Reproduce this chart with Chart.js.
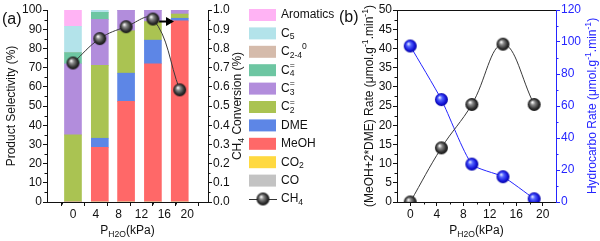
<!DOCTYPE html>
<html>
<head>
<meta charset="utf-8">
<script src="https://cdn.jsdelivr.net/npm/chart.js@4.4.0/dist/chart.umd.min.js"></script>
<style>
  html, body { margin: 0; padding: 0; background: #fff; }
  #wrap { position: relative; width: 600px; height: 241px; overflow: hidden; }
  #chartA { position: absolute; left: 0; top: 0; }
  #chartB { position: absolute; left: 330px; top: 0; }
</style>
</head>
<body>
<div id="wrap">
  <canvas id="chartA" width="345" height="241"></canvas>
  <canvas id="chartB" width="270" height="241"></canvas>
</div>
<script>
// ---- data ----
const pressure = [0, 4.7, 9.3, 14, 18.7];          // P_H2O (kPa)
const xTicks = [0, 4, 8, 12, 16, 20];

// (a) product selectivity (%), stacked bottom -> top
const selCO = [0, 0, 0, 0, 0];
const selCO2 = [0, 0, 0, 0, 0];
const selMeOH = [0, 28.5, 52.4, 72, 94.3];
const selDME = [0, 4.7, 14.7, 12.3, 1.4];
const selC2ene = [35, 38, 22.1, 9.7, 2.2];
const selC3ene = [37, 23.9, 10.8, 6, 2.1];
const selC4ene = [5.8, 3.7, 0, 0, 0];
const selC24ane = [0, 0, 0, 0, 0];
const selC5 = [13.7, 1.2, 0, 0, 0];
const selArom = [8.5, 0, 0, 0, 0];
const ch4Conv = [0.724, 0.851, 0.913, 0.953, 0.584];
const selTicks = [0, 10, 20, 30, 40, 50, 60, 70, 80, 90, 100];
const convTicks = [0, 0.1, 0.2, 0.3, 0.4, 0.5, 0.6, 0.7, 0.8, 0.9, 1.0];
const arrowSpec = { from: 15.1, to: 17.7, y: 0.94 };

// (b) rates
const oxyRate = [0, 14.1, 25.4, 41.1, 25.4];      // (MeOH+2*DME) rate
const hcRate = [97.5, 64, 23.7, 15.8, 2];         // hydrocarbon rate
const oxyTicks = [0, 5, 10, 15, 20, 25, 30, 35, 40, 45, 50];
const hcTicks = [0, 20, 40, 60, 80, 100, 120];

// legend labels (rich text: [text, kind])
const legendLabels = [
  [['Aromatics']],
  [['C'], ['5', 'sub']],
  [['C'], ['2-4', 'sub'], ['0', 'sup']],
  [['C'], ['4', 'sub'], ['=', 'over']],
  [['C'], ['3', 'sub'], ['=', 'over']],
  [['C'], ['2', 'sub'], ['=', 'over']],
  [['DME']],
  [['MeOH']],
  [['CO'], ['2', 'sub']],
  [['CO']],
  [['CH'], ['4', 'sub']]
];

// ---- styles ----
const FONT = "'Liberation Sans', Arial, Helvetica, sans-serif";
const INK = '#111';
const BLUE = '#2525ff';
const colors = {
  CO: '#c3c3c3', CO2: '#ffd940', MeOH: '#ff6868', DME: '#5d86e6',
  C2ene: '#aac352', C3ene: '#b28ddc', C4ene: '#6dc6a2', C24ane: '#d5bbab',
  C5: '#b3e3ea', Arom: '#ffb3f4'
};
const legendColors = [colors.Arom, colors.C5, colors.C24ane, colors.C4ene, colors.C3ene,
  colors.C2ene, colors.DME, colors.MeOH, colors.CO2, colors.CO, null];

function sphere(r, stops) {
  const c = document.createElement('canvas');
  c.width = c.height = 2 * r + 2;
  const g = c.getContext('2d');
  const m = r + 1;
  const grad = g.createRadialGradient(m - r * 0.3, m - r * 0.35, r * 0.05, m, m, r);
  stops.forEach(s => grad.addColorStop(s[0], s[1]));
  g.fillStyle = grad;
  g.beginPath();
  g.arc(m, m, r, 0, Math.PI * 2);
  g.fill();
  return c;
}
const blackBall = sphere(6.5, [[0, '#ffffff'], [0.3, '#8a8a8a'], [0.75, '#2e2e2e'], [1, '#151515']]);
const blueBall = sphere(6.5, [[0, '#e6ebff'], [0.3, '#5466ff'], [0.75, '#1515d8'], [1, '#0000a0']]);

// ---- rich text helpers ----
function segFont(size, kind) {
  return (kind ? size * 0.72 : size).toFixed(1) + 'px ' + FONT;
}
function segShift(size, kind) {
  if (kind === 'sub') return size * 0.3;
  if (kind === 'sup' || kind === 'over') return -size * 0.4;
  return 0;
}
function drawRich(ctx, segs, x, y, size, color, align, rot) {
  ctx.save();
  ctx.translate(x, y);
  if (rot) ctx.rotate(rot);
  let cx = 0, prevStart = 0;
  const parts = [];
  for (const [text, kind] of segs) {
    ctx.font = segFont(size, kind);
    const w = ctx.measureText(text).width;
    const sx = kind === 'over' ? prevStart : cx;
    parts.push({ text, kind, x: sx });
    if (kind === 'over') cx = Math.max(cx, sx + w);
    else { prevStart = sx; cx = sx + w; }
  }
  const x0 = align === 'left' ? 0 : -cx / 2;
  ctx.fillStyle = color;
  ctx.textAlign = 'left';
  ctx.textBaseline = 'middle';
  for (const p of parts) {
    ctx.font = segFont(size, p.kind);
    ctx.fillText(p.text, x0 + p.x, segShift(size, p.kind));
  }
  ctx.restore();
}

// minor tick marks halfway between major ticks
const minorTicks = {
  id: 'minorTicks',
  afterDraw(chart, args, opts) {
    const ctx = chart.ctx;
    for (const id in opts.steps) {
      const s = chart.scales[id];
      const step = opts.steps[id];
      ctx.save();
      ctx.strokeStyle = (opts.colors && opts.colors[id]) || INK;
      ctx.lineWidth = 1;
      ctx.beginPath();
      for (let v = Math.ceil(s.min / step) * step; v <= s.max + 1e-9; v += step) {
        if (s.ticks.some(t => Math.abs(t.value - v) < 1e-6)) continue;
        const p = Math.round(s.getPixelForValue(v)) + 0.5;
        if (s.isHorizontal()) {
          if (p < chart.chartArea.left + 1 || p > chart.chartArea.right - 1) continue;
          ctx.moveTo(p, s.top); ctx.lineTo(p, s.top + 2.5);
        } else if (s.position === 'left') {
          ctx.moveTo(s.right, p); ctx.lineTo(s.right - 2.5, p);
        } else {
          ctx.moveTo(s.left, p); ctx.lineTo(s.left + 2.5, p);
        }
      }
      ctx.stroke();
      ctx.restore();
    }
  }
};

function axisOpts(color, ticksArr, fitFn, extra) {
  return Object.assign({
    type: 'linear',
    afterBuildTicks: s => { s.ticks = ticksArr.map(v => ({ value: v })); },
    afterFit: fitFn,
    ticks: { color: color, font: { family: FONT, size: 12 }, padding: 1 },
    grid: { drawOnChartArea: false, drawTicks: true, tickLength: 4, color: color, tickColor: color },
    border: { display: true, color: color, width: 1 }
  }, extra);
}

// ---- chart (a) ----
const barDefs = [
  ['CO', selCO, colors.CO], ['CO2', selCO2, colors.CO2], ['MeOH', selMeOH, colors.MeOH],
  ['DME', selDME, colors.DME], ['C2=', selC2ene, colors.C2ene], ['C3=', selC3ene, colors.C3ene],
  ['C4=', selC4ene, colors.C4ene], ['C2-4 0', selC24ane, colors.C24ane], ['C5', selC5, colors.C5],
  ['Aromatics', selArom, colors.Arom]
];

const decorA = {
  id: 'decorA',
  afterDraw(chart) {
    const ctx = chart.ctx;
    const a = chart.chartArea;
    const xs = chart.scales.x, y1 = chart.scales.y1;
    // arrow toward the conversion axis
    const ay = y1.getPixelForValue(arrowSpec.y);
    const ax0 = xs.getPixelForValue(arrowSpec.from);
    const ax1 = xs.getPixelForValue(arrowSpec.to);
    ctx.save();
    ctx.strokeStyle = '#000';
    ctx.fillStyle = '#000';
    ctx.lineWidth = 2;
    ctx.beginPath(); ctx.moveTo(ax0, ay); ctx.lineTo(ax1 - 6, ay); ctx.stroke();
    ctx.beginPath(); ctx.moveTo(ax1, ay); ctx.lineTo(ax1 - 8, ay - 4.5); ctx.lineTo(ax1 - 8, ay + 4.5); ctx.closePath(); ctx.fill();
    ctx.restore();
    // titles
    const midY = (a.top + a.bottom) / 2;
    drawRich(ctx, [['Product Selectivity (%)']], 12, midY, 12, INK, 'center', -Math.PI / 2);
    drawRich(ctx, [['CH'], ['4', 'sub'], [' Conversion (%)']], 238, midY, 12, INK, 'center', -Math.PI / 2);
    drawRich(ctx, [['P'], ['H2O', 'sub'], ['(kPa)']], (a.left + a.right) / 2, 231, 12, INK, 'center');
    drawRich(ctx, [['(a)']], 2, 20, 16, INK, 'left');
    // legend
    for (let i = 0; i < legendLabels.length; i++) {
      const y = 15 + 18.4 * i;
      if (legendColors[i]) {
        ctx.fillStyle = legendColors[i];
        ctx.fillRect(249, y - 6, 27, 12);
      } else {
        ctx.strokeStyle = '#333';
        ctx.lineWidth = 1;
        ctx.beginPath(); ctx.moveTo(249, y + 0.5); ctx.lineTo(277, y + 0.5); ctx.stroke();
        ctx.drawImage(blackBall, 263 - blackBall.width / 2, y - blackBall.height / 2);
      }
      drawRich(ctx, legendLabels[i], 281, y, 12, INK, 'left');
    }
  }
};

new Chart(document.getElementById('chartA'), {
  type: 'bar',
  data: {
    datasets: barDefs.map(d => ({
      type: 'bar',
      label: d[0],
      data: pressure.map((p, i) => ({ x: p, y: d[1][i] })),
      backgroundColor: d[2],
      borderWidth: 0,
      barThickness: 17,
      stack: 'sel',
      yAxisID: 'y',
      order: 2
    })).concat([{
      type: 'line',
      label: 'CH4',
      data: pressure.map((p, i) => ({ x: p, y: ch4Conv[i] })),
      yAxisID: 'y1',
      borderColor: '#3a3a3a',
      borderWidth: 1,
      tension: 0.4,
      pointStyle: blackBall,
      pointRadius: 6.5,
      order: 0
    }])
  },
  options: {
    responsive: false,
    animation: false,
    layout: { padding: { top: 10, right: 101, left: 0, bottom: 0 } },
    plugins: {
      legend: { display: false },
      tooltip: { enabled: false },
      minorTicks: { steps: { x: 2, y: 5, y1: 0.05 } }
    },
    scales: {
      x: axisOpts(INK, xTicks, s => { s.height = 39; }, { min: -2.2, max: 21.3 }),
      y: axisOpts(INK, selTicks, s => { s.width = 47; }, { position: 'left', min: 0, max: 100, stacked: true }),
      y1: axisOpts(INK, convTicks, s => { s.width = 36; }, {
        position: 'right', min: 0, max: 1,
        ticks: { color: INK, font: { family: FONT, size: 12 }, padding: 1, callback: v => v.toFixed(1) }
      })
    }
  },
  plugins: [minorTicks, decorA]
});

// ---- chart (b) ----
const decorB = {
  id: 'decorB',
  afterDraw(chart) {
    const ctx = chart.ctx;
    const a = chart.chartArea;
    ctx.save();
    ctx.strokeStyle = INK;
    ctx.lineWidth = 1;
    ctx.beginPath();
    ctx.moveTo(a.left, Math.round(a.top) + 0.5);
    ctx.lineTo(a.right, Math.round(a.top) + 0.5);
    ctx.stroke();
    ctx.restore();
    const midY = (a.top + a.bottom) / 2;
    drawRich(ctx, [['(MeOH+2*DME) Rate (\u03bcmol.g'], ['-1', 'sup'], ['.min'], ['-1', 'sup'], [')']],
      40, midY, 12, INK, 'center', -Math.PI / 2);
    drawRich(ctx, [['Hydrocarbo Rate (\u03bcmol.g'], ['-1', 'sup'], ['.min'], ['-1', 'sup'], [')']],
      263, midY, 12, BLUE, 'center', -Math.PI / 2);
    drawRich(ctx, [['P'], ['H2O', 'sub'], ['(kPa)']], (a.left + a.right) / 2, 231, 12, INK, 'center');
    drawRich(ctx, [['(b)']], 9, 18, 16, INK, 'left');
  }
};

new Chart(document.getElementById('chartB'), {
  type: 'line',
  data: {
    datasets: [{
      label: '(MeOH+2*DME) Rate',
      data: pressure.map((p, i) => ({ x: p, y: oxyRate[i] })),
      yAxisID: 'y',
      borderColor: '#3a3a3a',
      borderWidth: 1,
      tension: 0.4,
      pointStyle: blackBall,
      pointRadius: 6.5
    }, {
      label: 'Hydrocarbo Rate',
      data: pressure.map((p, i) => ({ x: p, y: hcRate[i] })),
      yAxisID: 'y1',
      borderColor: BLUE,
      borderWidth: 1,
      tension: 0.2,
      pointStyle: blueBall,
      pointRadius: 6.5
    }]
  },
  options: {
    responsive: false,
    animation: false,
    layout: { padding: { top: 10, right: 0, left: 0, bottom: 0 } },
    plugins: {
      legend: { display: false },
      tooltip: { enabled: false },
      minorTicks: { steps: { x: 2, y: 2.5, y1: 10 }, colors: { y1: BLUE } }
    },
    scales: {
      x: axisOpts(INK, xTicks, s => { s.height = 39; }, { min: -2, max: 22 }),
      y: axisOpts(INK, oxyTicks, s => { s.width = 67; }, { position: 'left', min: 0, max: 50 }),
      y1: axisOpts(BLUE, hcTicks, s => { s.width = 44; }, { position: 'right', min: 0, max: 120 })
    }
  },
  plugins: [minorTicks, decorB]
});
</script>
</body>
</html>
